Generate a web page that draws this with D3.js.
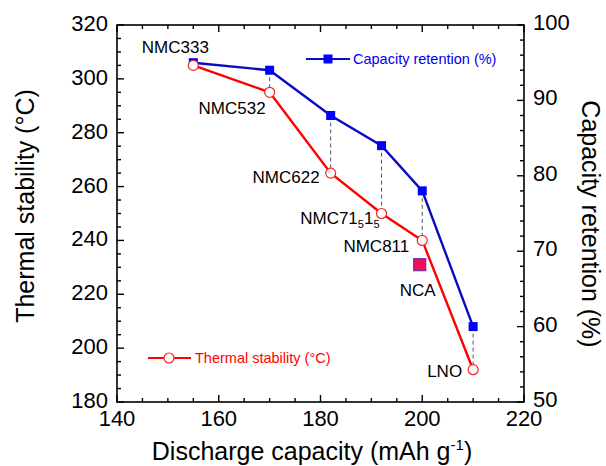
<!DOCTYPE html>
<html>
<head>
<meta charset="utf-8">
<script src="https://cdn.jsdelivr.net/npm/d3@7"></script>
<style>
  body { margin: 0; background: #fff; }
  svg { display: block; font-family: Arial, "Liberation Sans", sans-serif; }
</style>
</head>
<body>
<svg id="chart" width="606" height="466"></svg>
<script>
// ---- data ----
const capacity = [155, 170, 182, 192, 200, 210];
const thermal = [305, 295, 265, 250, 240, 192];
const retention = [95, 94, 88, 84, 78, 60];
const materials = ["NMC333", "NMC532", "NMC622", "NMC71515", "NMC811", "LNO"];
const ncaCapacity = [199.5];
const ncaThermal = [231];
const xTicks = [140, 160, 180, 200, 220];
const yLeftTicks = [180, 200, 220, 240, 260, 280, 300, 320];
const yRightTicks = [50, 60, 70, 80, 90, 100];

// ---- layout ----
const W = 606, H = 466;
const m = { left: 117, right: 82, top: 25, bottom: 64 };
const svg = d3.select("#chart");

const x = d3.scaleLinear().domain([140, 220]).range([m.left, W - m.right]);
const yL = d3.scaleLinear().domain([180, 320]).range([H - m.bottom, m.top]);
const yR = d3.scaleLinear().domain([50, 100]).range([H - m.bottom, m.top]);

const x0 = m.left, x1 = W - m.right, y0 = H - m.bottom, y1 = m.top;

// frame
svg.append("rect").attr("x", x0).attr("y", y1).attr("width", x1 - x0).attr("height", y0 - y1)
  .attr("fill", "none").attr("stroke", "#000").attr("stroke-width", 1.6);

const major = 7, minor = 4;
const tg = svg.append("g").attr("stroke", "#000").attr("stroke-width", 1.4);
d3.range(140, 221, 5).forEach(v => {
  const len = (v % 20 === 0) ? major : minor;
  tg.append("line").attr("x1", x(v)).attr("x2", x(v)).attr("y1", y0).attr("y2", y0 - len);
  tg.append("line").attr("x1", x(v)).attr("x2", x(v)).attr("y1", y1).attr("y2", y1 + len);
});
d3.range(180, 321, 5).forEach(v => {
  const len = (v % 20 === 0) ? major : minor;
  tg.append("line").attr("x1", x0).attr("x2", x0 + len).attr("y1", yL(v)).attr("y2", yL(v));
});
d3.range(50, 101, 2).forEach(v => {
  const len = (v % 10 === 0) ? major : minor;
  tg.append("line").attr("x1", x1).attr("x2", x1 - len).attr("y1", yR(v)).attr("y2", yR(v));
});

// tick labels
const tl = svg.append("g").attr("font-size", 22).attr("fill", "#000");
xTicks.forEach(v => tl.append("text").attr("x", x(v)).attr("y", y0 + 24).attr("text-anchor", "middle").text(v));
yLeftTicks.forEach(v => tl.append("text").attr("x", x0 - 9).attr("y", yL(v) + 6).attr("text-anchor", "end").text(v));
yRightTicks.forEach(v => tl.append("text").attr("x", x1 + 9).attr("y", yR(v) + 5).attr("text-anchor", "start").text(v));

// axis titles
const xt = svg.append("text").attr("x", 312).attr("y", 460).attr("text-anchor", "middle")
  .attr("font-size", 25).attr("fill", "#000");
xt.append("tspan").text("Discharge capacity (mAh g");
xt.append("tspan").attr("font-size", 15).attr("dy", -10).text("-1");
xt.append("tspan").attr("dy", 10).text(")");

svg.append("text").attr("transform", `translate(34,206) rotate(-90)`)
  .attr("text-anchor", "middle").attr("font-size", 25).attr("fill", "#000").text("Thermal stability (°C)");
svg.append("text").attr("transform", `translate(582,224) rotate(90)`)
  .attr("text-anchor", "middle").attr("font-size", 25).attr("fill", "#000").text("Capacity retention (%)");

// dashed connectors
const dg = svg.append("g").attr("stroke", "#555").attr("stroke-width", 1).attr("stroke-dasharray", "4,3");
capacity.forEach((c, i) => {
  dg.append("line").attr("x1", x(c)).attr("x2", x(c)).attr("y1", yR(retention[i])).attr("y2", yL(thermal[i]));
});

// lines
const blueLine = d3.line().x((d, i) => x(capacity[i])).y(d => yR(d));
const redLine = d3.line().x((d, i) => x(capacity[i])).y(d => yL(d));
svg.append("path").attr("d", blueLine(retention)).attr("fill", "none").attr("stroke", "#0a0ac0").attr("stroke-width", 2.4);
svg.append("path").attr("d", redLine(thermal)).attr("fill", "none").attr("stroke", "#ff0000").attr("stroke-width", 2.4);

// markers
const sq = 9;
retention.forEach((r, i) => {
  svg.append("rect").attr("x", x(capacity[i]) - sq / 2).attr("y", yR(r) - sq / 2).attr("width", sq).attr("height", sq)
    .attr("fill", "#0000ff");
});
thermal.forEach((t, i) => {
  svg.append("circle").attr("cx", x(capacity[i])).attr("cy", yL(t)).attr("r", 5)
    .attr("fill", "#fff").attr("stroke", "#ff2020").attr("stroke-width", 1.2);
});
// NCA
const nsq = 12;
svg.append("rect").attr("x", x(ncaCapacity[0]) - nsq / 2).attr("y", yL(ncaThermal[0]) - nsq / 2)
  .attr("width", nsq).attr("height", nsq).attr("fill", "#f0105a").attr("stroke", "#7030a0").attr("stroke-width", 1.2);

// labels
const lab = svg.append("g").attr("font-size", 17).attr("fill", "#000");
const lbl = (txt, px, py, anchor) => lab.append("text").attr("x", px).attr("y", py).attr("text-anchor", anchor).text(txt);
lbl(materials[0], x(capacity[0]) - 18, yL(thermal[0]) - 12, "middle");
lbl(materials[1], x(capacity[1]) - 4, yL(thermal[1]) + 22, "end");
lbl(materials[2], x(capacity[2]) - 11, yL(thermal[2]) + 10, "end");
const t4 = lab.append("text").attr("x", x(capacity[3]) - 2).attr("y", yL(thermal[3]) + 10).attr("text-anchor", "end");
t4.append("tspan").text("NMC71");
t4.append("tspan").attr("font-size", 11).attr("dy", 4).text("5");
t4.append("tspan").attr("dy", -4).text("1");
t4.append("tspan").attr("font-size", 11).attr("dy", 4).text("5");
lbl(materials[4], x(capacity[4]) - 13, yL(thermal[4]) + 12, "end");
lbl("NCA", x(ncaCapacity[0]) - 2, yL(ncaThermal[0]) + 31, "middle");
lbl(materials[5], x(capacity[5]) - 11, yL(thermal[5]) + 7, "end");

// legends
const lgB = svg.append("g");
lgB.append("line").attr("x1", 306).attr("x2", 350).attr("y1", 59).attr("y2", 59).attr("stroke", "#0a0ac0").attr("stroke-width", 2);
lgB.append("rect").attr("x", 328 - 4.5).attr("y", 59 - 4.5).attr("width", 9).attr("height", 9).attr("fill", "#0000ff");
lgB.append("text").attr("x", 353).attr("y", 64).attr("font-size", 14.5).attr("fill", "#0000ee").text("Capacity retention (%)");

const lgR = svg.append("g");
lgR.append("line").attr("x1", 148).attr("x2", 191).attr("y1", 358).attr("y2", 358).attr("stroke", "#ff0000").attr("stroke-width", 2);
lgR.append("circle").attr("cx", 169).attr("cy", 358).attr("r", 5).attr("fill", "#fff").attr("stroke", "#ff2020").attr("stroke-width", 1.2);
lgR.append("text").attr("x", 195).attr("y", 363).attr("font-size", 14.5).attr("fill", "#ff0000").text("Thermal stability (°C)");
</script>
</body>
</html>
